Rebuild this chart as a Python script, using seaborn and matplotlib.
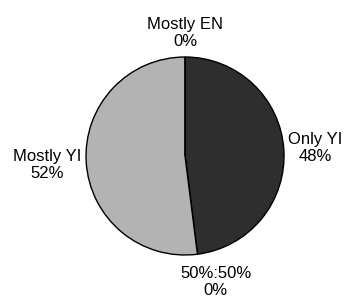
import numpy as np
import matplotlib
matplotlib.use("Agg")
import matplotlib.pyplot as plt
import seaborn as sns

# Response shares (clockwise from top)
categories = ["Only YI", "50%:50%", "Mostly YI", "Mostly EN"]
shares = [48, 0, 52, 0]
colors = ["#2e2e2e", "#ffffff", "#b3b3b3", "#ffffff"]

sns.set_style("white")
plt.rcParams['font.family'] = ['Liberation Sans', 'DejaVu Sans']

fig = plt.figure(figsize=(3.46, 2.97), dpi=100)
ax = fig.add_axes([0.2486, 0.1414, 0.5723, 0.6667])

wedges, _ = ax.pie(shares, colors=colors, startangle=90, counterclock=False,
                   wedgeprops=dict(edgecolor="black", linewidth=1.0))
ax.set_xlim(-1, 1)
ax.set_ylim(-1, 1)
ax.set_aspect("equal")
ax.axis("off")

# label distance from centre and sideways nudge, per wedge
dist = {"Only YI": 1.32, "50%:50%": 1.28, "Mostly YI": 1.40, "Mostly EN": 1.24}
nudge = {"Only YI": 0.0, "50%:50%": 0.15, "Mostly YI": 0.0, "Mostly EN": 0.0}
for w, name, val in zip(wedges, categories, shares):
    ang = np.deg2rad((w.theta1 + w.theta2) / 2)
    d = dist[name]
    ax.text(d * np.cos(ang) + nudge[name], d * np.sin(ang), f"{name}\n{val}%",
            ha="center", va="center", fontsize=12, linespacing=1.2,
            color="black", clip_on=False)

fig.savefig("out.png", dpi=100)
